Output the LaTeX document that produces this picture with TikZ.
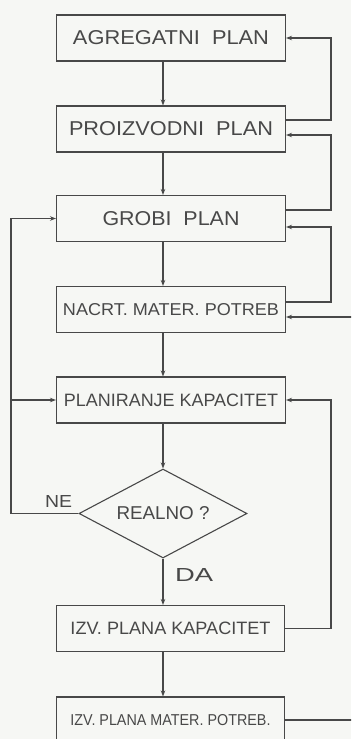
\documentclass[tikz,border=0pt]{standalone}
\usepackage{fontspec}
\setmainfont{Liberation Sans}
\usetikzlibrary{arrows.meta,shapes.geometric}
\definecolor{ink}{RGB}{72,72,72}
\definecolor{paper}{RGB}{246,247,244}
\newcommand{\fitt}[3]{\resizebox{#1pt}{#2pt}{#3}}
\begin{document}
\begin{tikzpicture}[x=1pt,y=-1pt,
  box/.style={draw=ink,line width=1.1pt,minimum width=229pt,minimum height=46pt,inner sep=0pt,text=ink},
  dia/.style={draw=ink,line width=1.1pt,diamond,shape aspect=1.9,minimum width=168pt,minimum height=89pt,inner sep=0pt,text=ink},
  lbl/.style={inner sep=0pt,text=ink},
  con/.style={draw=ink,line width=1.1pt},
  arr/.style={con,-{Stealth[length=6pt,width=4.5pt]}}]
\fill[paper] (0,0) rectangle (351,739);
\clip (0,0) rectangle (351,739);
\node[box] (b1) at (171,38) {\fitt{196}{14}{AGREGATNI\ \ PLAN}};
\node[box] (b2) at (171,129) {\fitt{204}{14}{PROIZVODNI\ \ PLAN}};
\node[box] (b3) at (171,218.5) {\fitt{137}{14}{GROBI\ \ PLAN}};
\node[box] (b4) at (171,309.5) {\fitt{216}{12}{NACRT.\ MATER.\ POTREB}};
\node[box] (b5) at (171,400) {\fitt{214}{12.5}{PLANIRANJE\ KAPACITET}};
\node[dia] (d) at (163,513.5) {\fitt{93}{13}{REALNO\ ?}};
\node[box,minimum width=228pt] (b7) at (170.5,628.5) {\fitt{200}{12.5}{IZV.\ PLANA\ KAPACITET}};
\node[box,minimum width=228pt] (b8) at (170.5,720) {\fitt{200}{11}{IZV.\ PLANA\ MATER.\ POTREB.}};
\node[lbl] (ne) at (58.5,501) {\fitt{27}{12}{NE}};
\node[lbl] (da) at (194,575) {\fitt{38}{13}{DA}};
\coordinate (sp) at (163,0);
\coordinate (rx) at (331,0);
\coordinate (fx) at (362,0);
\coordinate (lx) at (11,0);
\coordinate (b2o) at ([yshift=9pt]b2.east);
\coordinate (b2i) at ([yshift=-6pt]b2.east);
\coordinate (b3o) at ([yshift=8.5pt]b3.east);
\coordinate (b3i) at ([yshift=-8.5pt]b3.east);
\coordinate (b4o) at ([yshift=7.5pt]b4.east);
\coordinate (b4i) at ([yshift=-7.5pt]b4.east);
% main spine
\draw[arr] (b1.south -| sp) -- (b2.north -| sp);
\draw[arr] (b2.south -| sp) -- (b3.north -| sp);
\draw[arr] (b3.south -| sp) -- (b4.north -| sp);
\draw[arr] (b4.south -| sp) -- (b5.north -| sp);
\draw[arr] (b5.south -| sp) -- (d.north);
\draw[arr] (d.south) -- (b7.north -| sp);
\draw[arr] (b7.south -| sp) -- (b8.north -| sp);
% right feedbacks
\draw[arr] (b2o) -| (rx |- b1.east) -- (b1.east);
\draw[arr] (b3o) -| (rx |- b2i) -- (b2i);
\draw[arr] (b4o) -| (rx |- b3i) -- (b3i);
\draw[arr] (b7.east) -| (rx |- b5.east) -- (b5.east);
\draw[arr] (b8.east) -| (fx |- b4i) -- (b4i);
% left feedback
\draw[arr] (d.west) -| (lx |- b3.west) -- (b3.west);
\draw[arr] (lx |- b5.west) -- (b5.west);
\end{tikzpicture}
\end{document}
